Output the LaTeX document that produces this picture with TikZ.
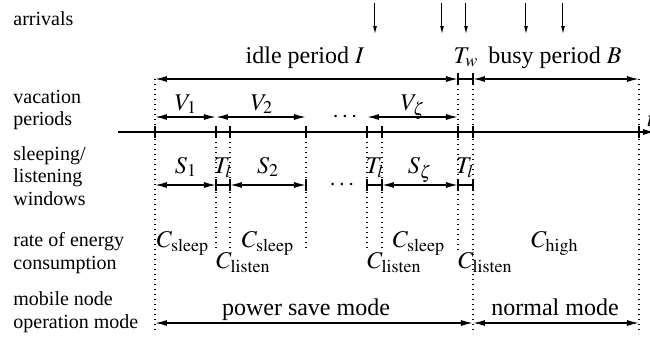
\documentclass[tikz,border=0pt]{standalone}
\usepackage{mathptmx}
\usepackage{fontspec}
\setmainfont{Liberation Serif}
\usetikzlibrary{arrows.meta,positioning,calc}
\tikzset{
  span/.style    ={{Latex[length=6pt,width=3pt]}-{Latex[length=6pt,width=3pt]}, line width=0.7pt},
  flow/.style    ={-{Latex[length=4pt,width=2pt]}, line width=0.5pt},
  axisline/.style={-{Latex[length=6pt,width=3pt]}, line width=0.7pt},
  guide/.style   ={line width=0.6pt, dash pattern=on 0.7pt off 1.8pt}, % dotted marks
  tickline/.style={line width=0.7pt},
  rowlbl/.style  ={anchor=west, align=left, inner sep=0pt, font=\fontsize{10}{11.3}\selectfont},
  lbl/.style     ={anchor=base, inner sep=0pt, font=\fontsize{12}{14}\selectfont},
}

\begin{document}
\begin{tikzpicture}[x=0.5pt, y=-0.5pt]
  \useasboundingbox (0,0) rectangle (650,338);
  % row levels
  \coordinate (rowI) at (0,79);
  \coordinate (rowV) at (0,117);
  \coordinate (rowS) at (0,185);
  \coordinate (rowE) at (0,250);
  \coordinate (rowM) at (0,323);
  \coordinate (rowB) at (0,334);
  % instants on the time axis
  \foreach \n/\x in {t0/155,l1/216,s2/230,e2/306,l3/367,s3/382,tw/458,tb/473,te/639}{
    \coordinate (\n) at (\x,132);
    \coordinate (\n-i) at (\n |- rowI);
    \coordinate (\n-v) at (\n |- rowV);
    \coordinate (\n-s) at (\n |- rowS);
    \coordinate (\n-m) at (\n |- rowM);
  }
  % time axis
  \coordinate (axL) at (118,132);
  \coordinate (axR) at (655,132);
  \draw[axisline] (axL) -- (axR);
  \node[lbl, anchor=base west] (tlbl) at (647,126) {$t$};

  % dotted guides and ticks
  \foreach \n in {t0,tb,te} \draw[guide] (\n-i) -- (\n |- rowB);
  \draw[guide] (tw-i) -- (tw |- rowE);
  \foreach \n in {l1,s2,e2,l3,s3} \draw[guide] (\n) -- (\n |- rowE);
  \foreach \n in {t0,l1,s2,e2,l3,s3,tw,tb,te}
    \draw[tickline] ([yshift=2.8pt]\n) -- ([yshift=-2.8pt]\n);
  \foreach \n in {l1,s2,e2,l3,s3,tw,tb}
    \draw[tickline] ([yshift=2.8pt]\n-s) -- ([yshift=-2.8pt]\n-s);
  \foreach \n in {tw,tb}
    \draw[tickline] ([yshift=2.8pt]\n-i) -- ([yshift=-2.8pt]\n-i);

  % arrivals
  \foreach \k/\x in {1/375,2/442,3/466,4/526,5/563}{
    \coordinate (arr\k) at (\x,3);
    \coordinate (hit\k) at (\x,34);
    \draw[flow] (arr\k) -- (hit\k);
  }

  % idle and busy period
  \draw[span] (t0-i) -- (tw-i);
  \draw[tickline] (tw-i) -- (tb-i);
  \draw[span] (tb-i) -- (te-i);
  \node[lbl] (idle) at (305,63) {idle period $I$};
  \node[lbl] (Tw)   at (466,63) {$T_w$};
  \node[lbl] (busy) at (555,63) {busy period $B$};

  % vacation periods
  \draw[span] (t0-v) -- (l1-v);
  \draw[span] (l1-v) -- (e2-v);
  \draw[span] (l3-v) -- (tw-v);
  \node[lbl] (V1)    at (186,110) {$V_1$};
  \node[lbl] (V2)    at (262,110) {$V_2$};
  \node[lbl] (Vz)    at (413,110) {$V_\zeta$};
  \node[lbl] (vdots) at (345,122) {$\cdots$};

  % sleeping / listening windows
  \draw[span] (t0-s) -- (l1-s);
  \draw[tickline] (l1-s) -- (s2-s);
  \draw[span] (s2-s) -- (e2-s);
  \draw[tickline] (l3-s) -- (s3-s);
  \draw[span] (s3-s) -- (tw-s);
  \draw[tickline] (tw-s) -- (tb-s);
  \node[lbl] (S1)    at (186,173) {$S_1$};
  \node[lbl] (Tl1)   at (223,173) {$T_l$};
  \node[lbl] (S2)    at (268,173) {$S_2$};
  \node[lbl] (sdots) at (342,190) {$\cdots$};
  \node[lbl] (Tl2)   at (375,173) {$T_l$};
  \node[lbl] (Sz)    at (420,173) {$S_\zeta$};
  \node[lbl] (Tl3)   at (465,173) {$T_l$};

  % energy consumption
  \node[lbl] (Cs1) at (183,247) {$C_\mathrm{sleep}$};
  \node[lbl] (Cs2) at (268,247) {$C_\mathrm{sleep}$};
  \node[lbl] (Cs3) at (419,247) {$C_\mathrm{sleep}$};
  \node[lbl] (Ch)  at (555,247) {$C_\mathrm{high}$};
  \node[lbl, anchor=base west] (Cl1) at (216,268) {$C_\mathrm{listen}$};
  \node[lbl, anchor=base west] (Cl2) at (367,268) {$C_\mathrm{listen}$};
  \node[lbl, anchor=base west] (Cl3) at (458,268) {$C_\mathrm{listen}$};

  % operation mode
  \draw[span] (t0-m) -- (tb-m);
  \draw[span] (tb-m) -- (te-m);
  \node[lbl] (psm) at (306,315) {power save mode};
  \node[lbl] (nom) at (555,315) {normal mode};

  % row labels
  \node[rowlbl] (rArr) at (13,19)  {arrivals};
  \node[rowlbl] (rVac) at (13,110) {vacation\\periods};
  \node[rowlbl] (rSlp) at (13,176) {sleeping/\\listening\\windows};
  \node[rowlbl] (rEng) at (13,253) {rate of energy\\consumption};
  \node[rowlbl] (rMod) at (13,312) {mobile node\\operation mode};
\end{tikzpicture}
\end{document}
